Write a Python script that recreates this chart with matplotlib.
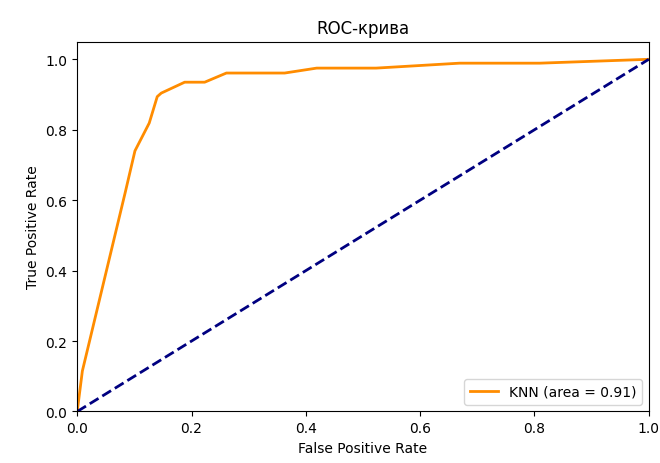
import matplotlib
matplotlib.use('Agg')
import matplotlib.pyplot as plt

# ROC curve points
fpr = [0.0, 0.009, 0.084, 0.101, 0.126, 0.140, 0.147, 0.188, 0.223, 0.261,
       0.363, 0.419, 0.523, 0.669, 0.809, 1.0]
tpr = [0.0, 0.115, 0.622, 0.740, 0.819, 0.894, 0.904, 0.935, 0.935, 0.961,
       0.961, 0.975, 0.975, 0.989, 0.989, 1.0]
roc_auc = 0.91

fig = plt.figure(figsize=(6.6, 4.64), dpi=100)
ax = fig.add_axes([0.117, 0.111, 0.866, 0.797])

ax.plot(fpr, tpr, color='darkorange', lw=2, label='KNN (area = %0.2f)' % roc_auc)
ax.plot([0, 1], [0, 1], color='navy', lw=2, linestyle='--')
ax.set_xlim([0.0, 1.0])
ax.set_ylim([0.0, 1.05])
ax.set_xlabel('False Positive Rate')
ax.set_ylabel('True Positive Rate')
ax.set_title('ROC-крива')
ax.legend(loc='lower right')

plt.savefig('out.png', dpi=100)
